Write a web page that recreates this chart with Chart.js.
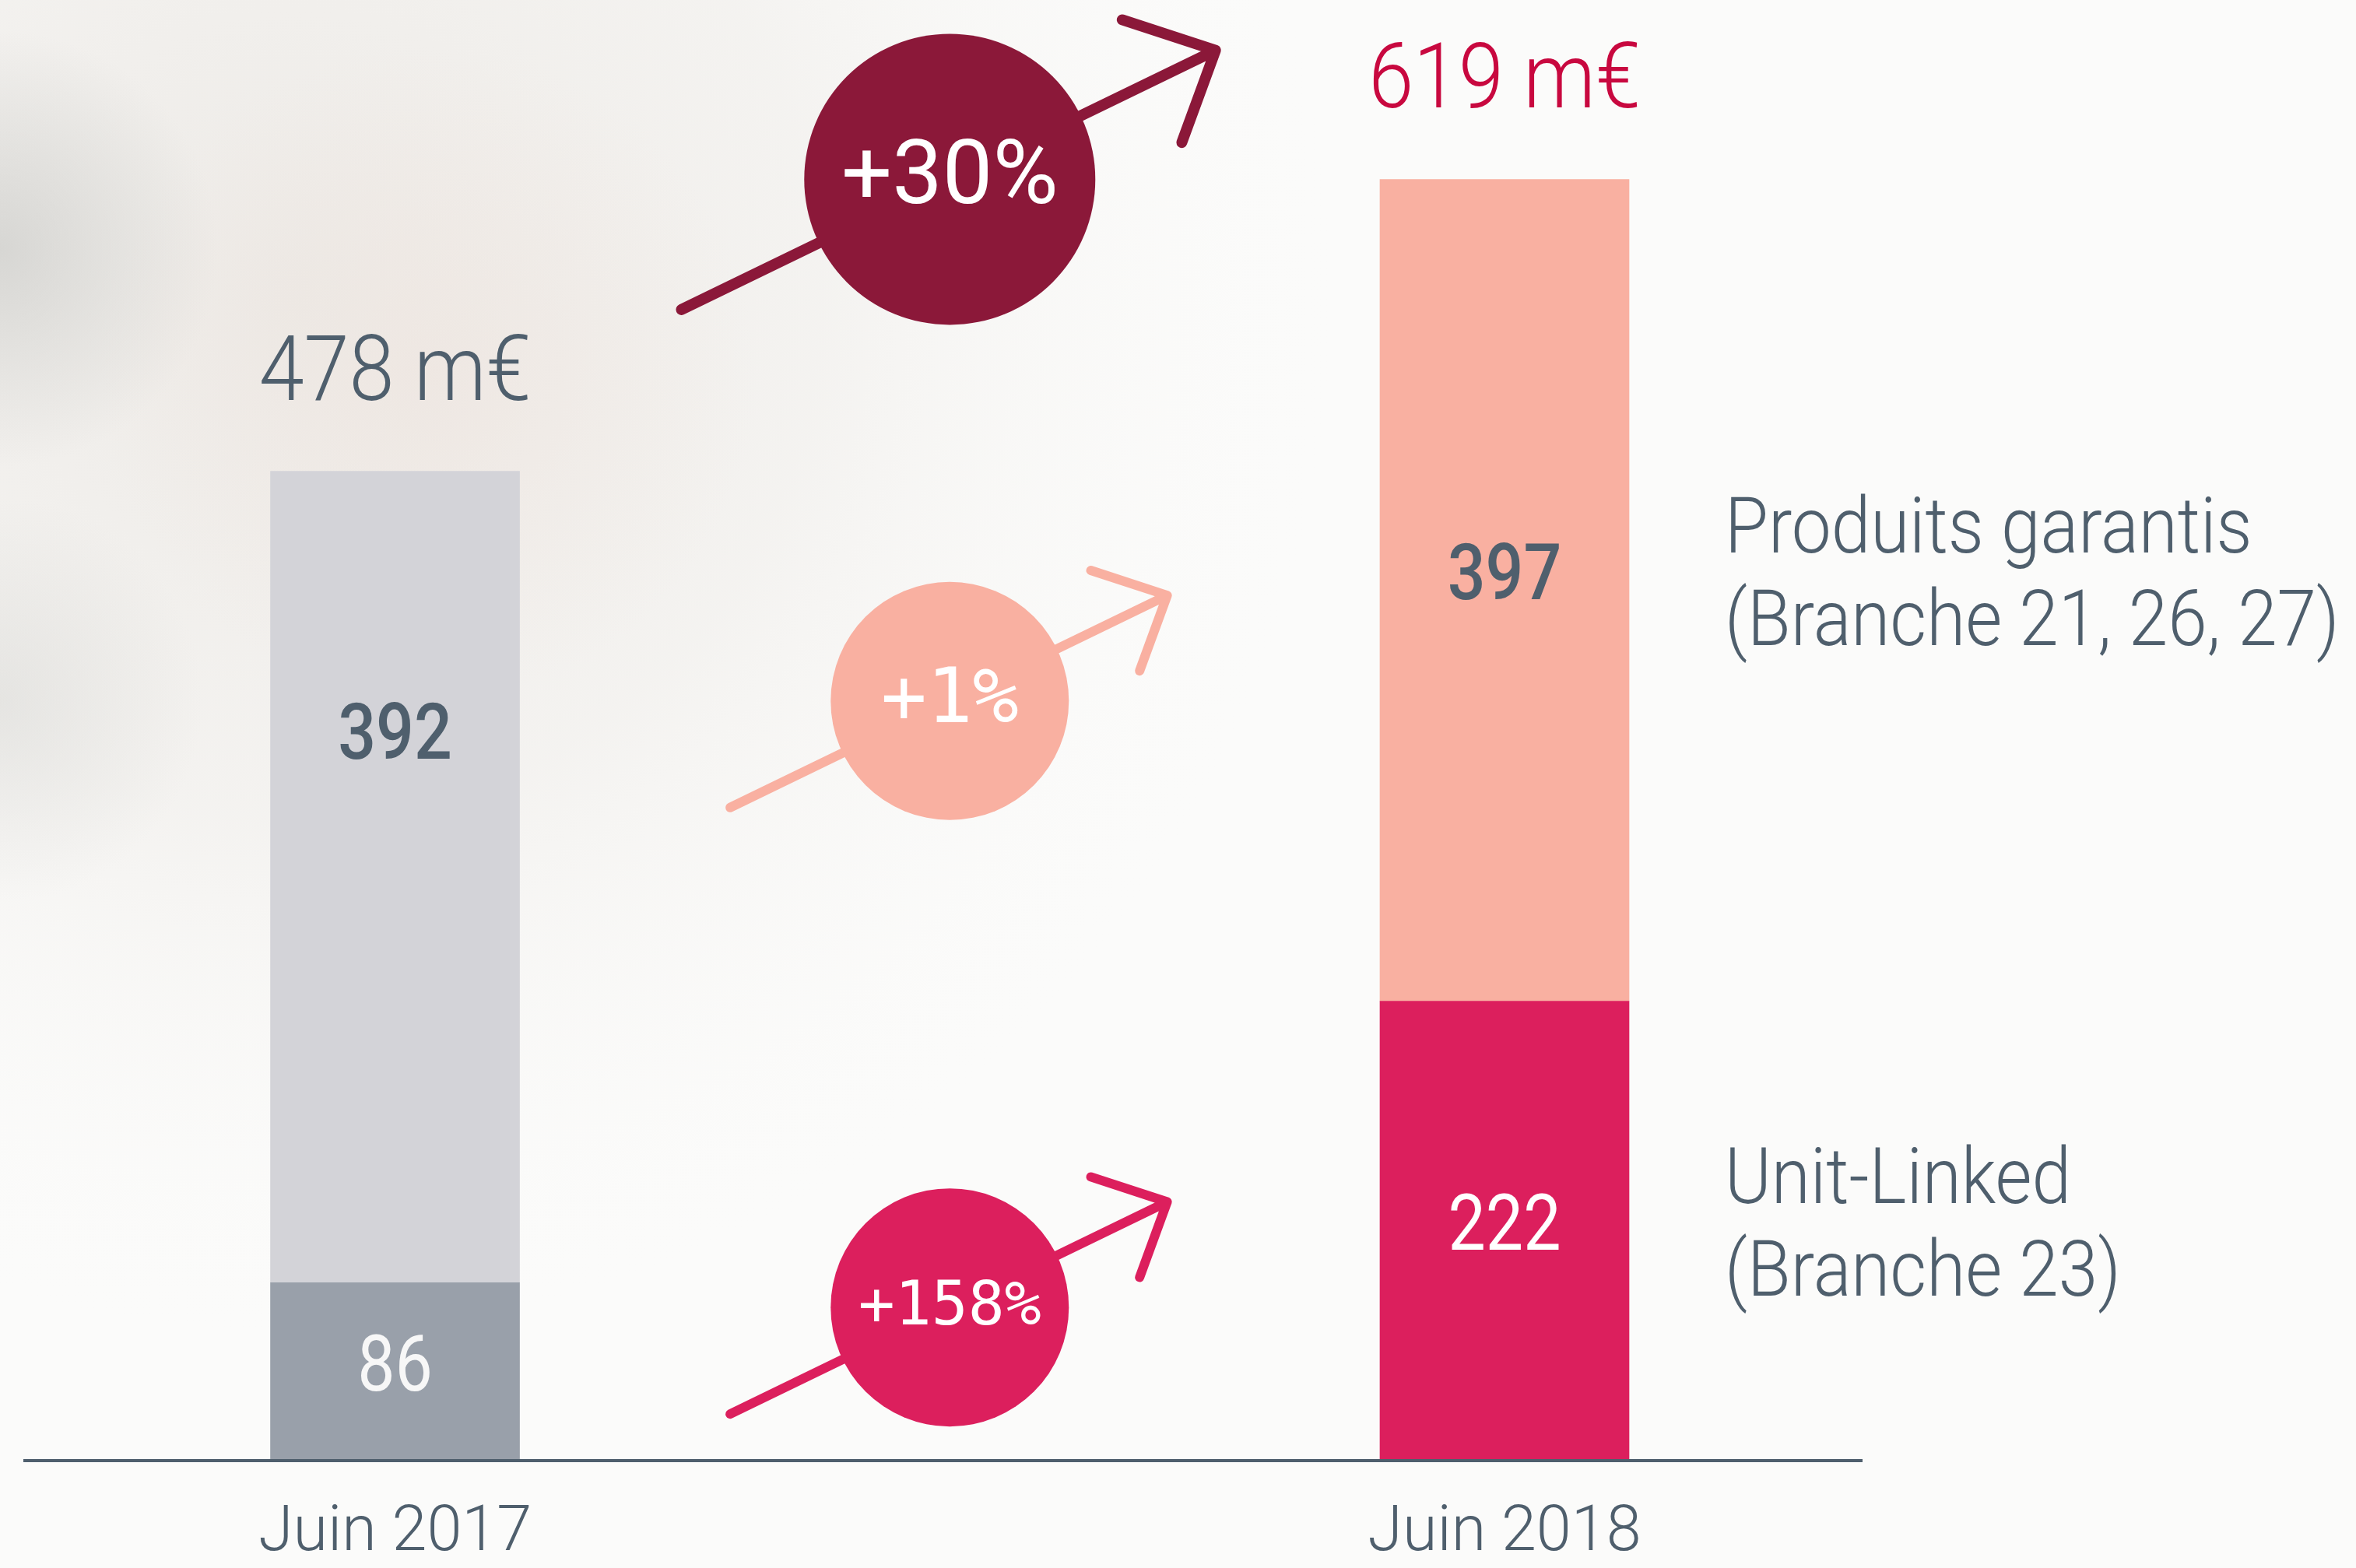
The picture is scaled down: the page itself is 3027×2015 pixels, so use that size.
<!DOCTYPE html>
<html lang="fr">
<head>
<meta charset="utf-8">
<title>Unit-Linked / Produits garantis</title>
<script src="https://cdn.jsdelivr.net/npm/chart.js@4.4.1/dist/chart.umd.min.js"></script>
<style>
  html, body { margin: 0; padding: 0; background: #fbfbfa; overflow: hidden; }
  canvas { display: block; }
</style>
</head>
<body>
<canvas id="chart" width="3027" height="2015"></canvas>
<script>
const categories = ['Juin 2017', 'Juin 2018'];
const unitLinked = [86, 222];
const garantis = [392, 397];
const totals = ['478 m€', '619 m€'];
const seriesNames = [['Unit-Linked', '(Branche 23)'], ['Produits garantis', '(Branche 21, 26, 27)']];
const growthLabels = ['+30%', '+1%', '+158%'];
const growthLevels = [619, 367, 74]; // height of each badge, in m€

const slate = '#4f5f6d';
const badgeColors = ['#8b1839', '#f9b0a1', '#dc1f5d'];
const badgeRadius = [187, 153, 153];
const badgeFonts = ['400 115px Roboto', '400 98px "DejaVu Sans Mono"', '400 78px "DejaVu Sans Mono"'];
const labelFrac = [[0.45, 0.48], [0.32, 0.477]]; // where the value sits inside each segment

function drawText(ctx, text, x, y, font, color, align, squeeze) {
  ctx.save();
  ctx.font = font;
  ctx.fillStyle = color;
  ctx.textAlign = align || 'center';
  ctx.textBaseline = 'alphabetic';
  ctx.translate(x, y);
  ctx.scale(squeeze || 1, 1);
  ctx.fillText(text, 0, 0);
  ctx.restore();
}

// faded photo behind the left half
const backdrop = {
  id: 'backdrop',
  beforeDraw(chart) {
    const ctx = chart.ctx;
    const w = chart.width, h = chart.height;
    ctx.save();
    ctx.fillStyle = '#fbfbfa';
    ctx.fillRect(0, 0, w, h);

    let g = ctx.createRadialGradient(380, 380, 0, 380, 380, 1350);
    g.addColorStop(0, 'rgba(236,233,229,0.95)');
    g.addColorStop(0.5, 'rgba(241,239,236,0.7)');
    g.addColorStop(1, 'rgba(251,251,250,0)');
    ctx.fillStyle = g;
    ctx.fillRect(0, 0, w, h);

    g = ctx.createRadialGradient(550, 480, 0, 550, 480, 420);
    g.addColorStop(0, 'rgba(238,228,222,0.6)');
    g.addColorStop(1, 'rgba(238,228,222,0)');
    ctx.fillStyle = g;
    ctx.fillRect(0, 0, w, h);

    g = ctx.createRadialGradient(0, 320, 0, 0, 320, 280);
    g.addColorStop(0, 'rgba(206,206,203,0.75)');
    g.addColorStop(1, 'rgba(206,206,203,0)');
    ctx.fillStyle = g;
    ctx.fillRect(0, 0, w, h);

    g = ctx.createRadialGradient(0, 900, 0, 0, 900, 260);
    g.addColorStop(0, 'rgba(215,215,212,0.5)');
    g.addColorStop(1, 'rgba(215,215,212,0)');
    ctx.fillStyle = g;
    ctx.fillRect(0, 0, w, h);
    ctx.restore();
  }
};

// growth circles with arrows between the two bars
const badges = {
  id: 'badges',
  afterDatasetsDraw(chart) {
    const ctx = chart.ctx;
    const cx = chart.scales.x.getPixelForValue(0.5);
    const a = -0.452;
    const spread = 44 * Math.PI / 180;

    growthLabels.forEach((label, i) => {
      const cy = chart.scales.y.getPixelForValue(growthLevels[i]);
      const r = badgeRadius[i];
      const x0 = cx - Math.cos(a) * 2.05 * r, y0 = cy - Math.sin(a) * 2.05 * r;
      const x1 = cx + Math.cos(a) * 2.03 * r, y1 = cy + Math.sin(a) * 2.03 * r;
      const back = a + Math.PI;
      const arm = 0.675 * r;

      ctx.save();
      ctx.strokeStyle = badgeColors[i];
      ctx.lineWidth = r > 170 ? 14 : 12;
      ctx.lineCap = 'round';
      ctx.lineJoin = 'round';
      ctx.beginPath();
      ctx.moveTo(x0, y0);
      ctx.lineTo(x1, y1);
      ctx.moveTo(x1 + Math.cos(back + spread) * arm, y1 + Math.sin(back + spread) * arm);
      ctx.lineTo(x1, y1);
      ctx.lineTo(x1 + Math.cos(back - spread) * arm, y1 + Math.sin(back - spread) * arm);
      ctx.stroke();

      ctx.fillStyle = badgeColors[i];
      ctx.beginPath();
      ctx.arc(cx, cy, r, 0, Math.PI * 2);
      ctx.fill();

      ctx.font = badgeFonts[i];
      ctx.fillStyle = '#ffffff';
      ctx.textAlign = 'center';
      ctx.textBaseline = 'middle';
      ctx.fillText(label, cx, cy + 2);
      ctx.restore();
    });
  }
};

// totals, segment values and the series names on the right
const labels = {
  id: 'labels',
  afterDraw(chart) {
    const ctx = chart.ctx;
    const top = chart.getDatasetMeta(1).data;
    const totalColors = [slate, '#c8083f'];
    top.forEach((bar, i) => {
      drawText(ctx, totals[i], bar.x, bar.y - 92, '300 116px Roboto', totalColors[i], 'center', 0.9);
    });

    const valueColors = [['#f7f7f7', '#ffffff'], [slate, slate]];
    const valueFonts = ['400 100px Roboto', '500 100px Roboto'];
    [unitLinked, garantis].forEach((values, d) => {
      const meta = chart.getDatasetMeta(d);
      values.forEach((v, i) => {
        const bar = meta.data[i];
        const cy = bar.y + (bar.base - bar.y) * labelFrac[d][i];
        drawText(ctx, String(v), bar.x, cy + 36, valueFonts[d], valueColors[d][i], 'center', 0.86);
      });
      const last = meta.data[meta.data.length - 1];
      const cy = last.y + (last.base - last.y) * labelFrac[d][1];
      const lx = last.x + last.width / 2 + 123;
      drawText(ctx, seriesNames[d][0], lx, cy - 24, '300 101px Roboto', slate, 'left', 0.9);
      drawText(ctx, seriesNames[d][1], lx, cy + 95, '300 101px Roboto', slate, 'left', 0.9);
    });
  }
};

new Chart(document.getElementById('chart'), {
  type: 'bar',
  data: {
    datasets: [
      {
        label: seriesNames[0].join(' '),
        data: unitLinked.map((v, i) => ({ x: i, y: v })),
        backgroundColor: ['#99a0aa', '#dc1f5d'],
        barThickness: 320
      },
      {
        label: seriesNames[1].join(' '),
        data: garantis.map((v, i) => ({ x: i, y: v })),
        backgroundColor: ['#d3d3d8', '#f9b0a1'],
        barThickness: 320
      }
    ]
  },
  options: {
    responsive: false,
    animation: false,
    layout: { padding: { top: 15, left: 32, right: 635, bottom: 0 } },
    plugins: {
      legend: { display: false },
      tooltip: { enabled: false }
    },
    scales: {
      x: {
        type: 'linear',
        min: -0.3336,
        max: 1.322,
        offset: false,
        stacked: true,
        grid: { display: false, drawTicks: false, offset: false },
        border: { display: true, color: slate, width: 4, z: 1 },
        ticks: {
          color: slate,
          font: { family: 'Roboto', size: 81, weight: '300' },
          padding: 46,
          autoSkip: false,
          maxRotation: 0,
          callback: (value) => categories[value]
        },
        afterBuildTicks: (axis) => { axis.ticks = categories.map((c, i) => ({ value: i })); },
        afterFit: (axis) => { axis.height = 138; }
      },
      y: { display: false, stacked: true, min: 0, max: 700 }
    }
  },
  plugins: [backdrop, badges, labels]
});
</script>
</body>
</html>
